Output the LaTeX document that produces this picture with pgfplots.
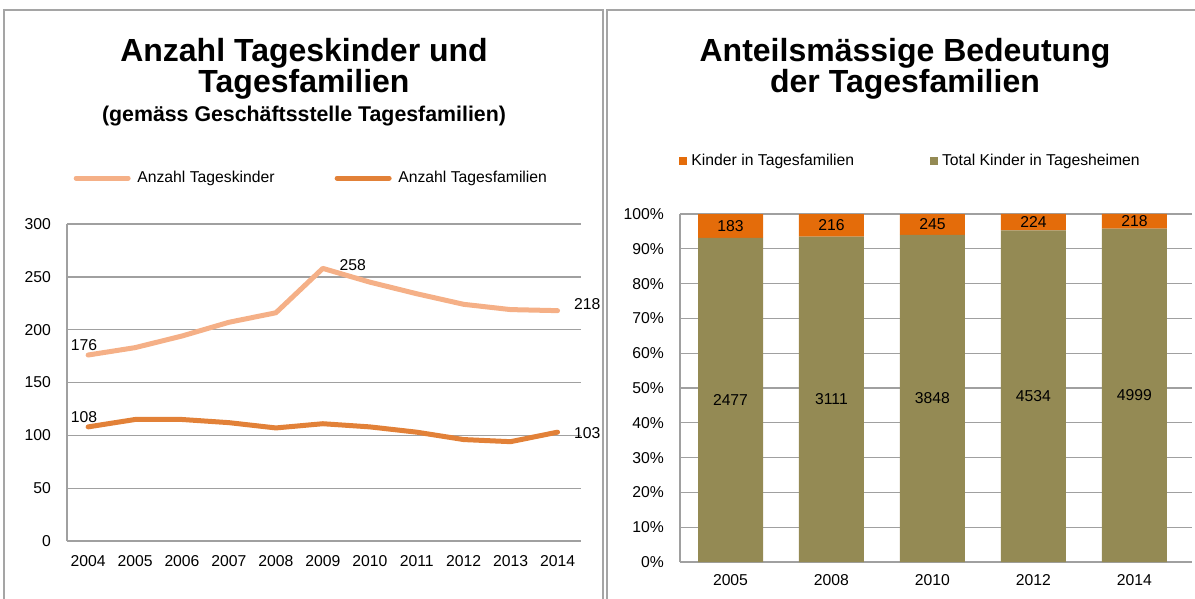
\documentclass[border=0pt]{standalone}
\usepackage{fontspec}
\setmainfont{Liberation Sans}
\usepackage{pgfplots}
\usepackage{pgfplotstable}
\pgfplotsset{compat=1.18}

\definecolor{kidline}{RGB}{245,176,135}
\definecolor{famline}{RGB}{226,129,56}
\definecolor{barorange}{RGB}{228,108,10}
\definecolor{barolive}{RGB}{148,138,84}
\definecolor{gridgray}{RGB}{160,160,160}
\definecolor{framegray}{RGB}{165,165,165}

% Anzahl Tageskinder / Tagesfamilien
\pgfplotstableread{
year kinder familien
2004 176 108
2005 183 115
2006 194 115
2007 207 112
2008 216 107
2009 258 111
2010 245 108
2011 234 103
2012 224 96
2013 219 94
2014 218 103
}\linedata

% Kinder in Tagesfamilien (tf) / Total Kinder in Tagesheimen (tk)
\pgfplotstableread{
idx year tf tk
0 2005 183 2477
1 2008 216 3111
2 2010 245 3848
3 2012 224 4534
4 2014 218 4999
}\bardata

\newcommand{\smallfont}{\fontsize{11.8}{13}\selectfont}
\def\u{0.75pt}

\pgfplotsset{
  panel/.style={
    scale only axis, clip=false,
    axis on top=false,
    separate axis lines,
    axis x line*=bottom, axis y line*=left,
    axis line style={gridgray, line width=1pt, -},
    ymajorgrids, grid style={gridgray, line width=1pt},
    major tick length=0pt,
    tick label style={font=\smallfont, black},
    yticklabel style={xshift=-8.5pt},
    /pgf/number format/1000 sep={},
    /pgf/number format/assume math mode=true,
    legend style={draw=none, fill=none, font=\smallfont, inner sep=0pt},
    legend cell align=left,
  },
}

\begin{document}
\begin{tikzpicture}
\path[use as bounding box] (0,0) rectangle ({1195*\u},{-599*\u});

% panel frames
\draw[framegray, line width=1.3pt] ({4*\u},{-620*\u}) |- ({603*\u},{-10*\u}) -- ({603*\u},{-620*\u});
\draw[framegray, line width=1.3pt] ({607*\u},{-620*\u}) |- ({1210*\u},{-10*\u});

% titles
\node[anchor=base, align=center, font=\fontsize{24}{23.5}\selectfont\bfseries]
  at ({304*\u},{-93*\u}) {Anzahl Tageskinder und\\Tagesfamilien};
\node[anchor=base, font=\fontsize{16}{18}\selectfont\bfseries]
  at ({304*\u},{-122*\u}) {(gemäss Geschäftsstelle Tagesfamilien)};
\node[anchor=base, align=center, font=\fontsize{24}{23.5}\selectfont\bfseries]
  at ({905*\u},{-93*\u}) {Anteilsmässige Bedeutung\\der Tagesfamilien};

% left chart: line plot
\begin{axis}[panel,
  at={({67*\u},{-541*\u})}, anchor=south west,
  width={514*\u}, height={317*\u},
  xmin=2003.55, xmax=2014.5, ymin=0, ymax=300,
  xtick={2004,2005,...,2014}, ytick={0,50,...,300},
  xticklabel style={yshift=-7pt},
  legend columns=2,
  legend style={at={(0.476,1.145)}, anchor=center,
    /tikz/every odd column/.append style={column sep=3pt},
    /tikz/every even column/.append style={column sep=43pt}},
  legend image code/.code={\draw[#1] (0pt,0pt) -- (39pt,0pt);},
]
\addplot[kidline, line width=3.75pt, line cap=round, line join=round, mark=none]
  table[x=year, y=kinder]{\linedata};
\addlegendentry{Anzahl Tageskinder}
\addplot[famline, line width=3.75pt, line cap=round, line join=round, mark=none]
  table[x=year, y=familien]{\linedata};
\addlegendentry{Anzahl Tagesfamilien}
% data labels
\addplot[draw=none, mark=none, forget plot, nodes near coords, point meta=y,
  nodes near coords style={anchor=south, xshift=-3pt, font=\smallfont, black}]
  coordinates {(2004,176) (2004,108)};
\addplot[draw=none, mark=none, forget plot, nodes near coords, point meta=y,
  nodes near coords style={anchor=south west, xshift=9pt, yshift=-5pt, font=\smallfont, black}]
  coordinates {(2009,258)};
\addplot[draw=none, mark=none, forget plot, nodes near coords, point meta=y,
  nodes near coords style={anchor=west, xshift=9pt, yshift=5pt, font=\smallfont, black}]
  coordinates {(2014,218)};
\addplot[draw=none, mark=none, forget plot, nodes near coords, point meta=y,
  nodes near coords style={anchor=west, xshift=9pt, yshift=-1pt, font=\smallfont, black}]
  coordinates {(2014,103)};
\end{axis}

% right chart: 100% stacked bars
\begin{axis}[panel,
  at={({680*\u},{-562*\u})}, anchor=south west,
  width={512*\u}, height={348*\u},
  ybar stacked, bar width={65*\u},
  xmin=-0.5, xmax=4.57, ymin=0, ymax=100,
  xtick={0,...,4}, xticklabels={2005,2008,2010,2012,2014},
  ytick={0,10,...,100},
  yticklabel={\pgfmathprintnumber{\tick}\%},
  xticklabel style={yshift=-6pt},
  reverse legend,
  legend columns=2,
  legend style={at={(0.451,1.152)}, anchor=center,
    /tikz/every odd column/.append style={column sep=1pt},
    /tikz/every even column/.append style={column sep=55pt}},
  legend image code/.code={\fill[#1] (0pt,-3pt) rectangle (6pt,3pt);},
]
\addplot[fill=barolive, draw=none]
  table[x=idx, y expr={100*\thisrow{tk}/(\thisrow{tk}+\thisrow{tf})}]{\bardata};
\addlegendentry{Total Kinder in Tagesheimen}
\addplot[fill=barorange, draw=none]
  table[x=idx, y expr={100*\thisrow{tf}/(\thisrow{tk}+\thisrow{tf})}]{\bardata};
\addlegendentry{Kinder in Tagesfamilien}
\end{axis}

% right chart: labels centred in the bar segments
\begin{axis}[
  at={({680*\u},{-562*\u})}, anchor=south west,
  scale only axis, clip=false, hide axis,
  width={512*\u}, height={348*\u},
  xmin=-0.5, xmax=4.57, ymin=0, ymax=100,
  /pgf/number format/1000 sep={},
  /pgf/number format/assume math mode=true,
  nodes near coords style={anchor=center, font=\smallfont, black},
]
\addplot[draw=none, mark=none, nodes near coords, point meta=explicit]
  table[x=idx, y expr={50*\thisrow{tk}/(\thisrow{tk}+\thisrow{tf})}, meta=tk]{\bardata};
\addplot[draw=none, mark=none, nodes near coords, point meta=explicit]
  table[x=idx, y expr={100-50*\thisrow{tf}/(\thisrow{tk}+\thisrow{tf})}, meta=tf]{\bardata};
\end{axis}
\end{tikzpicture}
\end{document}
